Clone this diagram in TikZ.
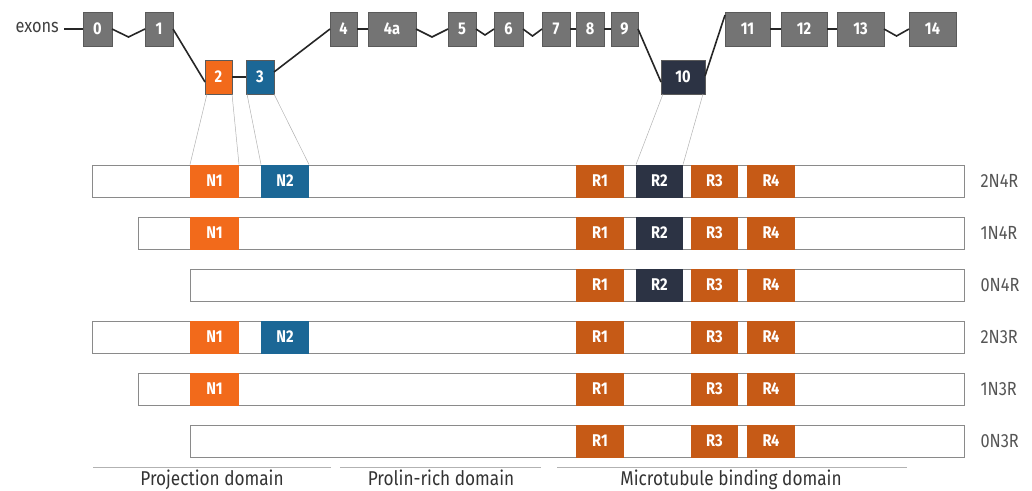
\documentclass[tikz,border=0pt]{standalone}
\usepackage{fontspec}
\setmainfont{Fira Sans}[FakeStretch=0.86]
\usetikzlibrary{calc}
\definecolor{exgray}{HTML}{747474}
\definecolor{exedge}{HTML}{5A5A5A}
\definecolor{orA}{HTML}{F26A1B}
\definecolor{orB}{HTML}{C65A16}
\definecolor{blu}{HTML}{1B6796}
\definecolor{nav}{HTML}{2C3344}
\definecolor{bargray}{HTML}{8A8A8A}
\definecolor{txtgray}{HTML}{555555}
\tikzset{
  exon/.style={draw=exedge, line width=0.6pt, fill=exgray, text=white, font=\fontsize{17}{17}\selectfont\bfseries, inner sep=0pt, outer sep=0pt, minimum height=34pt},
  link/.style={line width=1.6pt, black!85},
  bar/.style={draw=bargray, line width=1pt, fill=white, inner sep=0pt, outer sep=0pt, minimum height=32pt, anchor=north west},
  seg/.style={inner sep=0pt, outer sep=0pt, minimum height=33pt, text=white, font=\fontsize{17}{17}\selectfont\bfseries},
  mapline/.style={draw=black!30, line width=0.5pt},
  rowlbl/.style={anchor=west, text=txtgray, font=\fontsize{19}{19}\selectfont},
  domline/.style={draw=black!30, line width=1pt},
  domlbl/.style={anchor=base, inner sep=0pt, text=black!80, font=\fontsize{20}{20}\selectfont},
}
\begin{document}
\begin{tikzpicture}[x=1pt,y=-1pt]
\useasboundingbox (0,0) rectangle (1032,490);
% exons
\node[anchor=east, text=black!75, font=\fontsize{19}{19}\selectfont, inner sep=0pt] (lbl) at (59,27) {exons};
\node[exon, minimum width=29pt] (e0) at (97.5,29) {0};
\node[exon, minimum width=28pt] (e1) at (159,29) {1};
\node[exon, minimum width=27pt, fill=orA] (e2) at (218.5,77) {2};
\node[exon, minimum width=28pt, fill=blu] (e3) at (260,77) {3};
\node[exon, minimum width=27pt] (e4) at (343.5,29) {4};
\node[exon, minimum width=48pt] (e4a) at (392,29) {4a};
\node[exon, minimum width=28pt] (e5) at (462,29) {5};
\node[exon, minimum width=29pt] (e6) at (508.5,29) {6};
\node[exon, minimum width=28pt] (e7) at (556,29) {7};
\node[exon, minimum width=28pt] (e8) at (590,29) {8};
\node[exon, minimum width=27pt] (e9) at (624.5,29) {9};
\node[exon, minimum width=44pt, fill=nav] (e10) at (683,77) {10};
\node[exon, minimum width=45pt] (e11) at (747.5,29) {11};
\node[exon, minimum width=46pt] (e12) at (804,29) {12};
\node[exon, minimum width=47pt] (e13) at (860.5,29) {13};
\node[exon, minimum width=47pt] (e14) at (932.5,29) {14};
% links
\draw[link] ([xshift=5pt]lbl.east |- e0.west) -- (e0.west);
\draw[link] (e0.east) -- ($(e0.east)!0.5!(e1.west)+(0,8)$) -- (e1.west);
\draw[link] (e1.east) -- ([yshift=-5pt]e2.west);
\draw[link] (e2.east) -- (e3.east -| e3.west);
\draw[link] ([yshift=5pt]e3.east) -- (e4.west);
\draw[link] (e4.east) -- (e4a.west);
\draw[link] (e4a.east) -- ($(e4a.east)!0.5!(e5.west)+(0,8)$) -- (e5.west);
\draw[link] (e5.east) -- ($(e5.east)!0.5!(e6.west)+(0,6)$) -- (e6.west);
\draw[link] (e6.east) -- ($(e6.east)!0.5!(e7.west)+(0,7)$) -- (e7.west);
\draw[link] (e7.east) -- (e8.west);
\draw[link] (e8.east) -- (e9.west);
\draw[link] (e9.east) -- ([yshift=-5pt]e10.west);
\draw[link] ([yshift=1pt]e10.east) -- ([yshift=14pt]e11.west);
\draw[link] (e11.east) -- (e12.west);
\draw[link] (e12.east) -- (e13.west);
\draw[link] (e13.east) -- ($(e13.east)!0.5!(e14.west)+(0,7)$) -- (e14.west);
% bars
\node[bar, minimum width=872pt] (b1) at (92,165) {};
\node[bar, minimum width=826pt] (b2) at (138,217) {};
\node[bar, minimum width=774pt] (b3) at (190,269) {};
\node[bar, minimum width=872pt] (b4) at (92,321) {};
\node[bar, minimum width=826pt] (b5) at (138,373) {};
\node[bar, minimum width=774pt] (b6) at (190,425) {};
% row 1
\node[seg, fill=orA, minimum width=49pt] (n1a) at (214.5,181) {N1};
\node[seg, fill=blu, minimum width=48pt] (n2a) at (285,181) {N2};
\node[seg, fill=orB, minimum width=48pt] (r1a) at (600,181) {R1};
\node[seg, fill=nav, minimum width=47pt] (r2a) at (659.5,181) {R2};
\node[seg, fill=orB, minimum width=47pt] (r3a) at (714.5,181) {R3};
\node[seg, fill=orB, minimum width=48pt] (r4a) at (771,181) {R4};
% row 2
\node[seg, fill=orA, minimum width=49pt] (n1b) at (214.5,233) {N1};
\node[seg, fill=orB, minimum width=48pt] (r1b) at (600,233) {R1};
\node[seg, fill=nav, minimum width=47pt] (r2b) at (659.5,233) {R2};
\node[seg, fill=orB, minimum width=47pt] (r3b) at (714.5,233) {R3};
\node[seg, fill=orB, minimum width=48pt] (r4b) at (771,233) {R4};
% row 3
\node[seg, fill=orB, minimum width=48pt] (r1c) at (600,285) {R1};
\node[seg, fill=nav, minimum width=47pt] (r2c) at (659.5,285) {R2};
\node[seg, fill=orB, minimum width=47pt] (r3c) at (714.5,285) {R3};
\node[seg, fill=orB, minimum width=48pt] (r4c) at (771,285) {R4};
% row 4
\node[seg, fill=orA, minimum width=49pt] (n1d) at (214.5,337) {N1};
\node[seg, fill=blu, minimum width=48pt] (n2d) at (285,337) {N2};
\node[seg, fill=orB, minimum width=48pt] (r1d) at (600,337) {R1};
\node[seg, fill=orB, minimum width=47pt] (r3d) at (714.5,337) {R3};
\node[seg, fill=orB, minimum width=48pt] (r4d) at (771,337) {R4};
% row 5
\node[seg, fill=orA, minimum width=49pt] (n1e) at (214.5,389) {N1};
\node[seg, fill=orB, minimum width=48pt] (r1e) at (600,389) {R1};
\node[seg, fill=orB, minimum width=47pt] (r3e) at (714.5,389) {R3};
\node[seg, fill=orB, minimum width=48pt] (r4e) at (771,389) {R4};
% row 6
\node[seg, fill=orB, minimum width=48pt] (r1f) at (600,441) {R1};
\node[seg, fill=orB, minimum width=47pt] (r3f) at (714.5,441) {R3};
\node[seg, fill=orB, minimum width=48pt] (r4f) at (771,441) {R4};
% mapping lines
\draw[mapline] ([xshift=2pt]e2.south west) -- (n1a.north west);
\draw[mapline] (e2.south east) -- (n1a.north east);
\draw[mapline] ([xshift=1pt]e3.south west) -- (n2a.north west);
\draw[mapline] (e3.south east) -- (n2a.north east);
\draw[mapline] ([xshift=2pt]e10.south west) -- (r2a.north west);
\draw[mapline] ([xshift=-2pt]e10.south east) -- (r2a.north east);
% row labels
\node[rowlbl] (l1) at (977,181) {2N4R};
\node[rowlbl] (l2) at (977,233) {1N4R};
\node[rowlbl] (l3) at (977,285) {0N4R};
\node[rowlbl] (l4) at (977,337) {2N3R};
\node[rowlbl] (l5) at (977,389) {1N3R};
\node[rowlbl] (l6) at (977,441) {0N3R};
% domains
\coordinate (d1a) at (93,467); \coordinate (d1b) at (331,467);
\coordinate (d2a) at (340,467); \coordinate (d2b) at (541,467);
\coordinate (d3a) at (557,467); \coordinate (d3b) at (907,467);
\draw[domline] (d1a) -- (d1b);
\draw[domline] (d2a) -- (d2b);
\draw[domline] (d3a) -- (d3b);
\node[domlbl] (t1) at (212,485) {Projection domain};
\node[domlbl] (t2) at (441,485) {Prolin-rich domain};
\node[domlbl] (t3) at (731,485) {Microtubule binding domain};
\end{tikzpicture}
\end{document}
